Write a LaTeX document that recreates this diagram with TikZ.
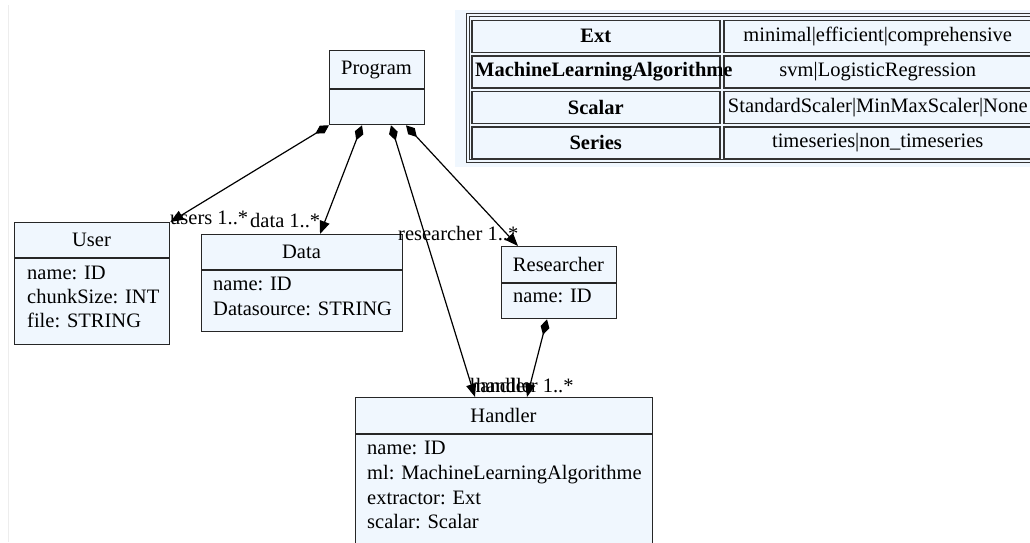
\documentclass[tikz,border=0pt]{standalone}
\usepackage{fontspec}
\setmainfont{Liberation Serif}
\usetikzlibrary{arrows.meta,calc}
\definecolor{nodefill}{HTML}{F0F7FE}
\begin{document}
\begin{tikzpicture}[x=1pt,y=-1pt,
  cls/.style={draw=black!85, line width=1.3pt, fill=nodefill, rectangle, inner sep=0pt, anchor=north west},
  divider/.style={draw=black!85, line width=1.3pt},
  ttl/.style={font=\fontsize{20.5}{24.6}\selectfont, inner sep=0pt},
  attr/.style={font=\fontsize{20.5}{24.6}\selectfont, inner sep=0pt, anchor=mid west},
  lbl/.style={font=\fontsize{20.5}{24.6}\selectfont, inner sep=0pt, anchor=base west},
  comp/.style={line width=1.2pt, {Diamond[length=16pt,width=9pt]}-{Triangle[length=13pt,width=10pt]}},
  cell/.style={draw=black!80, line width=1.5pt, rectangle, inner sep=0pt, anchor=north west},
  tblline/.style={draw=black!80, line width=1pt},
  tk/.style={font=\bfseries\fontsize{20.5}{24.6}\selectfont, inner sep=0pt},
  tv/.style={font=\fontsize{20.5}{24.6}\selectfont, inner sep=0pt}
]
\useasboundingbox (0,0) rectangle (1030,542);
\clip (0,0) rectangle (1030,542);
\fill[white] (0,0) rectangle (1030,542);
\draw[black!7, line width=1pt] (8,5) -- (8,542);

% ---- enum table ----
\fill[nodefill] (455,10) rectangle (1045,167);
\draw[tblline] (466,13.5) rectangle (1045,162);
\draw[tblline] (469,16.5) rectangle (1042,159);
\node[cell, minimum width=248pt, minimum height=32pt] (k1) at (471,19.5) {};
\node[cell, minimum width=308pt, minimum height=32pt] (v1) at (723,19.5) {};
\node[cell, minimum width=248pt, minimum height=32pt] (k2) at (471,55) {};
\node[cell, minimum width=308pt, minimum height=32pt] (v2) at (723,55) {};
\node[cell, minimum width=248pt, minimum height=32pt] (k3) at (471,90.5) {};
\node[cell, minimum width=308pt, minimum height=32pt] (v3) at (723,90.5) {};
\node[cell, minimum width=248pt, minimum height=32pt] (k4) at (471,126) {};
\node[cell, minimum width=308pt, minimum height=32pt] (v4) at (723,126) {};
\node[tk] (k1t) at (k1.center) {Ext};
\node[tk, anchor=west] (k2t) at ([xshift=4pt]k2.west) {MachineLearningAlgorithme};
\node[tk] (k3t) at (k3.center) {Scalar};
\node[tk] (k4t) at (k4.center) {Series};
\node[tv] (v1t) at (v1.center) {minimal|efficient|comprehensive};
\node[tv] (v2t) at (v2.center) {svm|LogisticRegression};
\node[tv] (v3t) at (v3.center) {StandardScaler|MinMaxScaler|None};
\node[tv] (v4t) at (v4.center) {timeseries|non\_timeseries};

% ---- classes ----
\node[cls, minimum width=95pt, minimum height=74pt] (program) at (329,50) {};
\draw[divider] ([yshift=-39pt]program.north west) -- ([yshift=-39pt]program.north east);
\node[ttl] (programT) at (376.5,69.5) {Program};

\node[cls, minimum width=155pt, minimum height=122pt] (user) at (14,222) {};
\draw[divider] ([yshift=-36pt]user.north west) -- ([yshift=-36pt]user.north east);
\node[ttl] (userT) at (91.5,240) {User};
\node[attr] (userA1) at (27,277) {name: ID};
\node[attr] (userA2) at (27,301) {chunkSize: INT};
\node[attr] (userA3) at (27,325) {file: STRING};

\node[cls, minimum width=201pt, minimum height=97pt] (data) at (201,234) {};
\draw[divider] ([yshift=-36pt]data.north west) -- ([yshift=-36pt]data.north east);
\node[ttl] (dataT) at (301.5,252) {Data};
\node[attr] (dataA1) at (213,288) {name: ID};
\node[attr] (dataA2) at (213,313) {Datasource: STRING};

\node[cls, minimum width=115pt, minimum height=72pt] (researcher) at (501,246) {};
\draw[divider] ([yshift=-37pt]researcher.north west) -- ([yshift=-37pt]researcher.north east);
\node[ttl] (researcherT) at (558.5,264.5) {Researcher};
\node[attr] (researcherA1) at (513,300) {name: ID};

\node[cls, minimum width=297pt, minimum height=175pt] (handler) at (355,397) {};
\draw[divider] ([yshift=-37pt]handler.north west) -- ([yshift=-37pt]handler.north east);
\node[ttl] (handlerT) at (503.5,415.5) {Handler};
\node[attr] (handlerA1) at (367,452) {name: ID};
\node[attr] (handlerA2) at (367,477) {ml: MachineLearningAlgorithme};
\node[attr] (handlerA3) at (367,502) {extractor: Ext};
\node[attr] (handlerA4) at (367,526) {scalar: Scalar};

% ---- compositions ----
\draw[comp] (program.south west) -- (user.north east);
\draw[comp] ([xshift=33pt]program.south west) -- ([xshift=119pt]data.north west);
\draw[comp] ([xshift=62pt]program.south west) -- ([xshift=120pt]handler.north west);
\draw[comp] ([xshift=77pt]program.south west) -- ([xshift=17pt]researcher.north west);
\draw[comp] ([xshift=46pt]researcher.south west) -- ([xshift=172pt]handler.north west);

\node[lbl] (l1) at (170,224) {users 1..*};
\node[lbl] (l2) at (250,227) {data 1..*};
\node[lbl] (l3) at (398,240) {researcher 1..*};
\node[lbl] (l4) at (476,392) {handler 1..*};
\node[lbl] (l5) at (470,392) {handler};
\end{tikzpicture}
\end{document}
